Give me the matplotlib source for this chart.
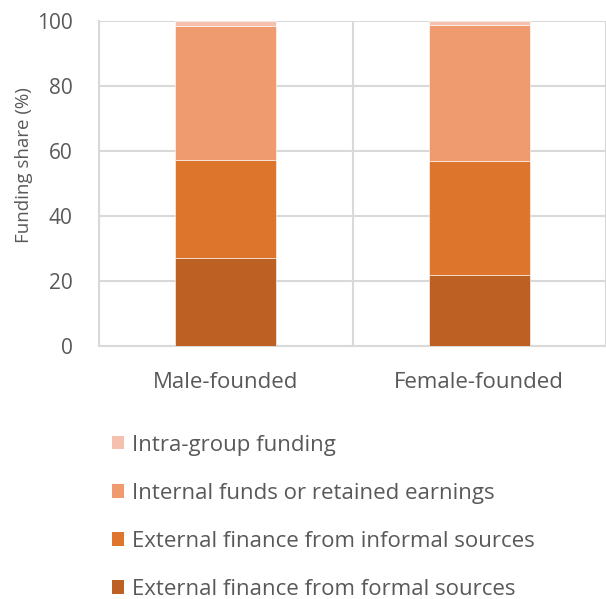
import numpy as np
import matplotlib.pyplot as plt
from matplotlib.patches import Patch

plt.rcParams['font.family'] = ['Open Sans', 'DejaVu Sans']

groups = ['Male-founded', 'Female-founded']
series = ['External finance from formal sources',
          'External finance from informal sources',
          'Internal funds or retained earnings',
          'Intra-group funding']
formal = [27.2, 22.0]
informal = [30.0, 35.0]
internal = [41.3, 41.8]
intra = [1.5, 1.2]
colors = ['#bc6123', '#de752d', '#f09a70', '#f5c1ae']

values = np.array([formal, informal, internal, intra])
txt = '#595959'
grid = '#d9d9d9'

fig = plt.figure(figsize=(6.06, 5.99), dpi=100)
ax = fig.add_axes([99/606, 253/599, 507/606, 325/599])

x = np.arange(len(groups)) + 0.5
bottom = np.zeros(len(groups))
for vals, col, name in zip(values, colors, series):
    ax.bar(x, vals, width=0.4, bottom=bottom, color=col, label=name,
           edgecolor='white', linewidth=0.4, zorder=3)
    bottom += vals

ax.set_xlim(0, 2)
ax.set_ylim(0, 100)
ax.set_yticks([0, 20, 40, 60, 80, 100])
ax.set_xticks(x)
ax.set_xticklabels(groups)
ax.set_xticks([0, 1, 2], minor=True)
ax.tick_params(axis='both', which='both', length=0, colors=txt)
ax.tick_params(axis='x', pad=19, labelsize=16)
ax.tick_params(axis='y', pad=19, labelsize=15)
ax.grid(axis='y', color=grid, linewidth=1.5, zorder=0)
ax.grid(axis='x', which='minor', color=grid, linewidth=1.5, zorder=0)
for s in ['top', 'right']:
    ax.spines[s].set_visible(False)
for s in ['left', 'bottom']:
    ax.spines[s].set_color(grid)
    ax.spines[s].set_linewidth(1.5)
ax.set_ylabel('Funding share (%)', fontsize=13.5, color=txt)
ax.yaxis.set_label_coords(-0.13, 0.557)

handles = [Patch(facecolor=c, label=n) for c, n in zip(colors, series)][::-1]
fig.legend(handles=handles, loc='upper left', bbox_to_anchor=(96/606, 1 - 419/599),
           frameon=False, fontsize=16, labelcolor=txt, handlelength=0.55,
           handleheight=0.55, handletextpad=0.35, labelspacing=1.22,
           borderaxespad=0.3)

fig.savefig('out.png', dpi=100)
